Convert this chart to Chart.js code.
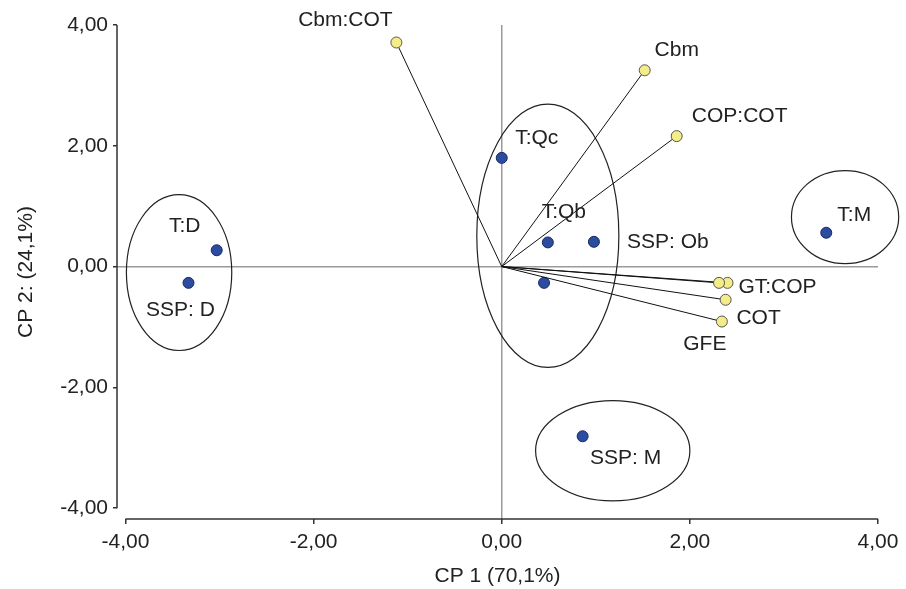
<!DOCTYPE html>
<html>
<head>
<meta charset="utf-8">
<script src="https://cdn.jsdelivr.net/npm/chart.js@4/dist/chart.umd.min.js"></script>
<style>
  body { margin: 0; background: #fff; }
  #wrap { width: 906px; height: 589px; }
</style>
</head>
<body>
<div id="wrap"><canvas id="pca" width="906" height="589"></canvas></div>
<script>
const xTicks = [-4, -2, 0, 2, 4];
const yTicks = [-4, -2, 0, 2, 4];

// treatments (blue dots)
const treatNames = ["T:D", "SSP: D", "T:Qc", "T:Qb", "SSP: Ob", "", "T:M", "SSP: M"];
const treatX = [-3.03, -3.33, 0.0, 0.49, 0.98, 0.45, 3.45, 0.86];
const treatY = [0.27, -0.27, 1.80, 0.40, 0.41, -0.27, 0.56, -2.81];

// variables (yellow vectors from the origin)
const varNames = ["Cbm:COT", "Cbm", "COP:COT", "", "GT:COP", "COT", "GFE"];
const varX = [-1.12, 1.52, 1.86, 2.31, 2.40, 2.38, 2.34];
const varY = [3.71, 3.25, 2.16, -0.27, -0.27, -0.55, -0.91];

// groups drawn as ellipses (centre and radii in axis units)
const groupCx = [-3.43, 0.49, 1.18, 3.65];
const groupCy = [-0.10, 0.51, -3.05, 0.82];
const groupRx = [0.56, 0.755, 0.82, 0.57];
const groupRy = [1.29, 2.18, 0.83, 0.77];

// where each label sits relative to its point (px)
const labelOffset = {
  "T:D": [-32, -24], "SSP: D": [-8, 27], "T:Qc": [35, -20], "T:Qb": [16, -30],
  "SSP: Ob": [74, 0], "T:M": [28, -18], "SSP: M": [43, 22],
  "Cbm:COT": [-51, -22], "Cbm": [32, -20], "COP:COT": [63, -20],
  "GT:COP": [50, 4], "COT": [33, 18], "GFE": [-17, 23]
};

const FONT = "'Liberation Sans', Arial, sans-serif";
const fmt = v => v.toFixed(2).replace(".", ",");

const datasets = [];
varX.forEach((vx, i) => {
  datasets.push({
    label: varNames[i],
    data: [{ x: 0, y: 0 }, { x: vx, y: varY[i] }],
    showLine: true,
    borderColor: "#111",
    borderWidth: 1,
    pointRadius: [0, 5.5],
    pointBackgroundColor: "#f3ec88",
    pointBorderColor: "#555",
    pointBorderWidth: 1,
    names: ["", varNames[i]]
  });
});
datasets.push({
  label: "treatments",
  data: treatX.map((x, i) => ({ x: x, y: treatY[i] })),
  pointRadius: 5.5,
  pointBackgroundColor: "#2c4d9f",
  pointBorderColor: "#17295f",
  pointBorderWidth: 1,
  names: treatNames
});

const decor = {
  id: "decor",
  beforeDatasetsDraw(chart) {
    const { ctx, scales: { x, y } } = chart;
    ctx.save();
    ctx.strokeStyle = "#222";
    ctx.lineWidth = 1.2;
    groupCx.forEach((cx, i) => {
      const px = x.getPixelForValue(cx), py = y.getPixelForValue(groupCy[i]);
      const rx = Math.abs(x.getPixelForValue(cx + groupRx[i]) - px);
      const ry = Math.abs(y.getPixelForValue(groupCy[i] + groupRy[i]) - py);
      ctx.beginPath();
      ctx.ellipse(px, py, rx, ry, 0, 0, Math.PI * 2);
      ctx.stroke();
    });
    // axis lines only span the tick range
    ctx.strokeStyle = "#333";
    ctx.lineWidth = 1.5;
    const a = chart.chartArea;
    ctx.beginPath();
    ctx.moveTo(a.left, y.getPixelForValue(yTicks[yTicks.length - 1]));
    ctx.lineTo(a.left, y.getPixelForValue(yTicks[0]));
    ctx.moveTo(x.getPixelForValue(xTicks[0]), a.bottom);
    ctx.lineTo(x.getPixelForValue(xTicks[xTicks.length - 1]), a.bottom);
    ctx.stroke();
    ctx.restore();
  },
  afterDatasetsDraw(chart) {
    const ctx = chart.ctx;
    ctx.save();
    ctx.font = "21px " + FONT;
    ctx.fillStyle = "#222";
    ctx.textAlign = "center";
    ctx.textBaseline = "middle";
    chart.data.datasets.forEach((ds, di) => {
      chart.getDatasetMeta(di).data.forEach((pt, j) => {
        const name = ds.names[j];
        if (!name) return;
        const off = labelOffset[name] || [0, -18];
        ctx.fillText(name, pt.x + off[0], pt.y + off[1]);
      });
    });
    ctx.restore();
  }
};

new Chart(document.getElementById("pca"), {
  type: "scatter",
  data: { datasets: datasets },
  plugins: [decor],
  options: {
    responsive: false,
    animation: false,
    layout: { padding: { left: 0, top: 25, right: 28, bottom: 0 } },
    plugins: { legend: { display: false }, tooltip: { enabled: false } },
    scales: {
      x: {
        type: "linear",
        min: -4.09,
        max: 4,
        afterBuildTicks: s => { s.ticks = xTicks.map(v => ({ value: v })); },
        afterFit: s => { s.height = 70; },
        border: { display: false },
        grid: {
          color: c => (c.tick && c.tick.value === 0 ? "#9a9a9a" : "rgba(0,0,0,0)"),
          lineWidth: 1.5,
          tickColor: "#333",
          tickLength: 5,
          tickWidth: 1.5
        },
        ticks: {
          padding: 6,
          color: "#222",
          font: { family: FONT, size: 21 },
          maxRotation: 0,
          callback: v => fmt(v)
        },
        title: {
          display: true,
          text: "CP 1 (70,1%)",
          color: "#222",
          font: { family: FONT, size: 21 },
          padding: { top: 0, bottom: 0 }
        }
      },
      y: {
        type: "linear",
        min: -4.18,
        max: 4,
        afterBuildTicks: s => { s.ticks = yTicks.map(v => ({ value: v })); },
        afterFit: s => { s.width = 117; },
        border: { display: false },
        grid: {
          color: c => (c.tick && c.tick.value === 0 ? "#9a9a9a" : "rgba(0,0,0,0)"),
          lineWidth: 1.5,
          tickColor: "#333",
          tickLength: 4,
          tickWidth: 1.5
        },
        ticks: {
          padding: 5,
          color: "#222",
          font: { family: FONT, size: 21 },
          callback: v => fmt(v)
        },
        title: {
          display: true,
          text: "CP 2: (24,1%)",
          color: "#222",
          font: { family: FONT, size: 21 },
          padding: { top: 14, bottom: 0 }
        }
      }
    }
  }
});
</script>
</body>
</html>
